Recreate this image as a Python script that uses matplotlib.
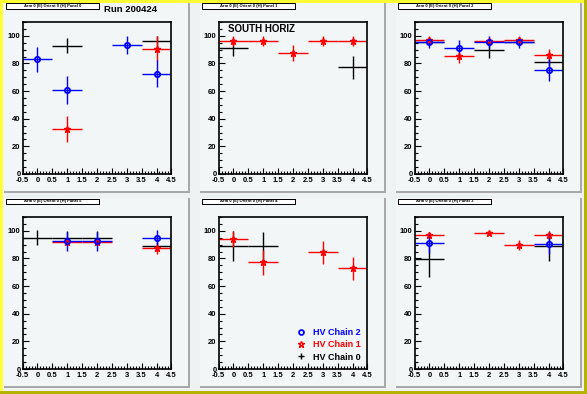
"""HV chain efficiency per panel, South Horizontal, run 200424 (ROOT-style canvas)."""

import matplotlib.pyplot as plt
import numpy as np
from matplotlib.lines import Line2D
from matplotlib.patches import Rectangle
from matplotlib.ticker import FuncFormatter, MultipleLocator

nan = np.nan

x_bins = [0, 1, 2, 3, 4]

# one row per pad, pads ordered: top row left->right, bottom row left->right
pad_titles = [
    "Arm 0 (E) Orient 0 (H) Panel 0",
    "Arm 0 (E) Orient 0 (H) Panel 1",
    "Arm 0 (E) Orient 0 (H) Panel 2",
    "Arm 0 (E) Orient 0 (H) Panel 5",
    "Arm 0 (E) Orient 0 (H) Panel 4",
    "Arm 0 (E) Orient 0 (H) Panel 3",
]

chain2_y = [
    [83, 61, nan, 93.5, 72.5],
    [nan, nan, nan, nan, nan],
    [95.2, 91.5, 95.4, 95.2, 75.5],
    [nan, 92.5, 92.5, nan, 95],
    [nan, nan, nan, nan, nan],
    [91.5, nan, nan, nan, 90.8],
]
chain2_err = [
    [9, 10, nan, 6.7, 9.7],
    [nan, nan, nan, nan, nan],
    [4, 5.3, 4.4, 4, 7.9],
    [nan, 7, 7, nan, 5.3],
    [nan, nan, nan, nan, nan],
    [7.3, nan, nan, nan, 7.5],
]

chain1_y = [
    [nan, 32.5, nan, nan, 90.7],
    [96.2, 96.2, 87.5, 96.2, 96.2],
    [97.2, 85.2, 96, 97.2, 86],
    [nan, 91.8, 91.8, nan, 87.6],
    [94, 77.2, nan, 84.6, 72.8],
    [96.8, nan, 98.3, 89.6, 96.8],
]
chain1_err = [
    [nan, 9.3, nan, nan, 9.2],
    [3.6, 3.6, 6, 3.6, 3.6],
    [2.5, 4.8, 3, 2.5, 4.8],
    [nan, 2, 2, nan, 4.6],
    [5.6, 9.2, nan, 8.3, 8.3],
    [2.5, nan, 1, 3.5, 2.5],
]

chain0_y = [
    [nan, 92.8, nan, nan, 96.2],
    [91, nan, nan, nan, 77.3],
    [95.8, nan, 89.5, 95.6, 81],
    [95, 95, 95, nan, 89],
    [89, 88.8, nan, nan, nan],
    [79.4, nan, nan, nan, 89],
]
chain0_err = [
    [nan, 5.5, nan, nan, 4],
    [5.5, nan, nan, nan, 8.4],
    [2, nan, 5.7, 2, 3],
    [5.3, 5, 5, nan, 3],
    [11, 10.5, nan, nan, nan],
    [12.5, nan, nan, nan, 11],
]

W, H = 587, 394
FONT = "Liberation Sans"
CANVAS = "#eef2f2"


def fig_rect(x0, y0, w, h):
    # pixel box (top-left origin) -> figure fraction
    return [x0 / W, 1 - (y0 + h) / H, w / W, h / H]


def add_box(fig, x0, y0, w, h, **kw):
    r = Rectangle(fig_rect(x0, y0, w, h)[:2], w / W, h / H,
                  transform=fig.transFigure, **kw)
    fig.patches.append(r)


def main():
    fig = plt.figure(figsize=(W / 100, H / 100), dpi=100, facecolor=CANVAS)

    # canvas border: bright on top/left, dark on bottom/right
    add_box(fig, 0, 0, W, 3, color="#ffff33", lw=0, zorder=-3)
    add_box(fig, 0, 0, 3, H, color="#ffff33", lw=0, zorder=-3)
    add_box(fig, 0, H - 3, W, 3, color="#b4b400", lw=0, zorder=-3)
    add_box(fig, W - 3, 0, 3, H, color="#b4b400", lw=0, zorder=-3)

    pad_x = [4, 200, 396]
    pad_y = [3, 198]
    pad_w, pad_h = 186, 190

    for i in range(6):
        px = pad_x[i % 3]
        py = pad_y[i // 3]

        # pad with shadow
        add_box(fig, px, py, pad_w, pad_h, color="#a8a8a8", lw=0, zorder=-2)
        add_box(fig, px, py, pad_w - 2, pad_h - 2, color="#f2f6f6", lw=0, zorder=-2)

        # title box
        add_box(fig, px + 3, py + 1, 93, 6, color="black", lw=0, zorder=2)
        add_box(fig, px + 2, py + 0.5, 93, 5.5, facecolor="white",
                edgecolor="black", lw=0.7, zorder=3)
        fig.text((px + 48.5) / W, 1 - (py + 3.3) / H, pad_titles[i],
                 fontsize=3.0, fontweight="bold", family=FONT,
                 ha="center", va="center", zorder=4)

        ax = fig.add_axes(fig_rect(px + 0.1 * pad_w, py + 0.1 * pad_h,
                                   0.8 * pad_w, 0.8 * pad_h))
        ax.set_facecolor("#f2f6f6")

        ax.errorbar(x_bins, chain0_y[i], xerr=0.5, yerr=chain0_err[i],
                    fmt="none", ecolor="black", elinewidth=1.0, capsize=0)
        ax.errorbar(x_bins, chain1_y[i], xerr=0.5, yerr=chain1_err[i],
                    fmt="*", color="red", mfc="none", mec="red", ms=5,
                    mew=1.0, elinewidth=1.0, capsize=0)
        ax.errorbar(x_bins, chain2_y[i], xerr=0.5, yerr=chain2_err[i],
                    fmt="o", color="blue", mfc="none", mec="blue", ms=3.8,
                    mew=1.3, elinewidth=1.0, capsize=0)

        ax.set_xlim(-0.5, 4.5)
        ax.set_ylim(0, 110)
        ax.xaxis.set_major_locator(MultipleLocator(0.5))
        ax.xaxis.set_minor_locator(MultipleLocator(0.1))
        ax.yaxis.set_major_locator(MultipleLocator(20))
        ax.yaxis.set_minor_locator(MultipleLocator(5))
        ax.xaxis.set_major_formatter(FuncFormatter(lambda v, p: f"{v:g}"))
        ax.yaxis.set_major_formatter(FuncFormatter(lambda v, p: f"{v:g}" if v <= 100 else ""))
        ax.tick_params(which="both", direction="in", top=False, right=False,
                       width=0.8, labelsize=5.5, pad=1.5)
        ax.tick_params(axis="x", which="major", pad=2.2)
        ax.tick_params(which="major", length=4.5)
        ax.tick_params(which="minor", length=2.2)
        for lab in ax.get_xticklabels() + ax.get_yticklabels():
            lab.set_fontweight("bold")
            lab.set_family(FONT)
        for sp in ax.spines.values():
            sp.set_linewidth(1.2)

        if i == 1:
            ax.text(0.063, 0.957, "SOUTH HORIZ", transform=ax.transAxes,
                    fontsize=7, fontweight="bold", family=FONT,
                    ha="left", va="center")

        if i == 4:
            handles = [
                Line2D([], [], ls="none", marker="o", mfc="none", mec="blue",
                       ms=3.5, mew=1.3),
                Line2D([], [], ls="none", marker="*", mfc="none", mec="red",
                       ms=5, mew=1.0),
                Line2D([], [], ls="none", marker="+", color="black",
                       ms=5, mew=1.0),
            ]
            ax.legend(handles, ["HV Chain 2", "HV Chain 1", "HV Chain 0"],
                      loc="center", bbox_to_anchor=(0.74, 0.158),
                      frameon=False, labelcolor=["blue", "red", "black"],
                      prop={"family": FONT, "weight": "bold", "size": 6.5},
                      handlelength=1.0, handletextpad=0.8, labelspacing=0.35,
                      borderpad=0)

    fig.text(131 / W, 1 - 9 / H, "Run 200424", fontsize=6.8,
             fontweight="bold", family=FONT, ha="center", va="center")

    fig.savefig("out.png", dpi=100, facecolor=fig.get_facecolor())


if __name__ == "__main__":
    main()
